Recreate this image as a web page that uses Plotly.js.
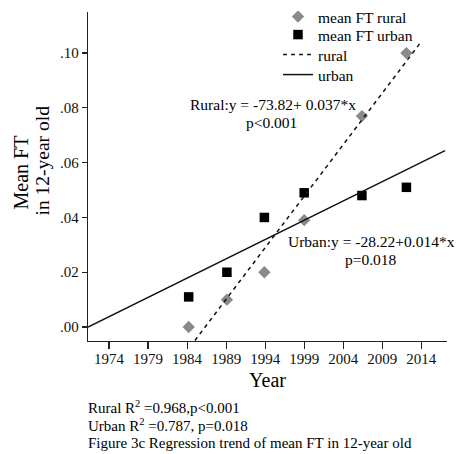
<!DOCTYPE html>
<html>
<head>
<meta charset="utf-8">
<script src="https://cdn.plot.ly/plotly-3.0.1.min.js"></script>
<style>html,body{margin:0;padding:0;background:#fff;}#chart{width:456px;height:454px;}</style>
</head>
<body>
<div id="chart"></div>
<script>
// ---- data ----
const years = [1984.2, 1989.1, 1993.9, 1999.0, 2006.4, 2012.1];
const ruralMean = [0.000, 0.010, 0.020, 0.039, 0.077, 0.100];
const urbanMean = [0.011, 0.020, 0.040, 0.049, 0.048, 0.051];
// fitted regression lines as drawn (end points)
const ruralFitX = [1985.0, 2013.9];
const ruralFitY = [-0.0049, 0.1038];
const urbanFitX = [1971.3, 2017.05];
const urbanFitY = [0.000, 0.0644];
// tick labels
const xTickVals = [1974, 1979, 1984, 1989, 1994, 1999, 2004, 2009, 2014];
const yTickVals = [0.00, 0.02, 0.04, 0.06, 0.08, 0.10];
const yTickText = ['.00', '.02', '.04', '.06', '.08', '.10'];
// texts
const ruralEq = ['Rural:y = -73.82+ 0.037*x', 'p&lt;0.001'];
const urbanEq = ['Urban:y = -28.22+0.014*x', 'p=0.018'];
const yTitle = ['Mean FT', 'in 12-year old'];
const notes = ['Rural R<sup>2</sup> =0.968,p&lt;0.001', 'Urban R<sup>2</sup> =0.787, p=0.018',
               'Figure 3c Regression trend of mean FT in 12-year old'];

const FONT = 'Liberation Serif, Times New Roman, serif';
const M = {l: 88, r: 9, t: 12, b: 113, autoexpand: false};
const W = 456, H = 454;
const PW = W - M.l - M.r, PH = H - M.t - M.b;
const px = x => (x - M.l) / PW;
const py = y => (H - M.b - y) / PH;

const traces = [
  {x: years, y: ruralMean, type: 'scatter', mode: 'markers', name: 'mean FT rural', legend: 'legend',
   marker: {symbol: 'diamond', size: 9.5, color: '#8a8a8a'}},
  {x: years, y: urbanMean, type: 'scatter', mode: 'markers', name: 'mean FT urban', legend: 'legend2',
   marker: {symbol: 'square', size: 9.5, color: '#000000'}},
  {x: ruralFitX, y: ruralFitY, type: 'scatter', mode: 'lines', name: 'rural', legend: 'legend3',
   line: {color: '#111', width: 1.5, dash: '4px,4px'}},
  {x: urbanFitX, y: urbanFitY, type: 'scatter', mode: 'lines', name: 'urban', legend: 'legend4',
   line: {color: '#111', width: 1.5}}
];

function ann(text, x, y, size, opts) {
  return Object.assign({text: text, xref: 'paper', yref: 'paper', x: px(x), y: py(y),
    showarrow: false, xanchor: 'center', yanchor: 'middle', borderpad: 0,
    font: {family: FONT, size: size, color: '#000'}}, opts || {});
}

const annotations = [
  ann(ruralEq[0], 273.3, 104.5, 15.5),
  ann(ruralEq[1], 271.7, 122.5, 15.5),
  ann(urbanEq[0], 371.7, 241.5, 15.5),
  ann(urbanEq[1], 371, 259.5, 15.5),
  ann(yTitle[0], 20, 172.5, 20, {textangle: -90}),
  ann(yTitle[1], 42, 160.5, 19.5, {textangle: -90}),
  ann(notes[0], 87, 407, 15, {xanchor: 'left'}),
  ann(notes[1], 87, 425, 15, {xanchor: 'left'}),
  ann(notes[2], 87, 443, 15, {xanchor: 'left'})
];

function leg(yc) {
  return {x: px(278), y: py(yc), xanchor: 'left', yanchor: 'middle', bgcolor: 'rgba(0,0,0,0)',
          font: {family: FONT, size: 15.5, color: '#000'}};
}

const layout = {
  width: W, height: H, margin: M,
  paper_bgcolor: '#fff', plot_bgcolor: '#fff',
  font: {family: FONT, color: '#000', size: 15},
  showlegend: true,
  legend: leg(17), legend2: leg(35), legend3: leg(55), legend4: leg(75),
  xaxis: {range: [1971.3, 2017.3], tickvals: xTickVals, ticktext: xTickVals.map(String),
          showgrid: false, zeroline: false, showline: true, linecolor: '#222', linewidth: 1.2,
          ticks: 'outside', ticklen: 7, tickcolor: '#222', tickwidth: 1.2, ticklabelstandoff: -3,
          tickfont: {family: FONT, size: 15, color: '#111'},
          title: {text: 'Year', font: {family: FONT, size: 20, color: '#000'}, standoff: 6}},
  yaxis: {range: [-0.0051, 0.115], tickvals: yTickVals, ticktext: yTickText,
          showgrid: false, zeroline: false, showline: true, linecolor: '#222', linewidth: 1.2,
          ticks: 'outside', ticklen: 5, tickcolor: '#222', tickwidth: 1.2,
          tickfont: {family: FONT, size: 15, color: '#111'}},
  annotations: annotations
};

Plotly.newPlot('chart', traces, layout, {displayModeBar: false, staticPlot: true});
</script>
</body>
</html>
